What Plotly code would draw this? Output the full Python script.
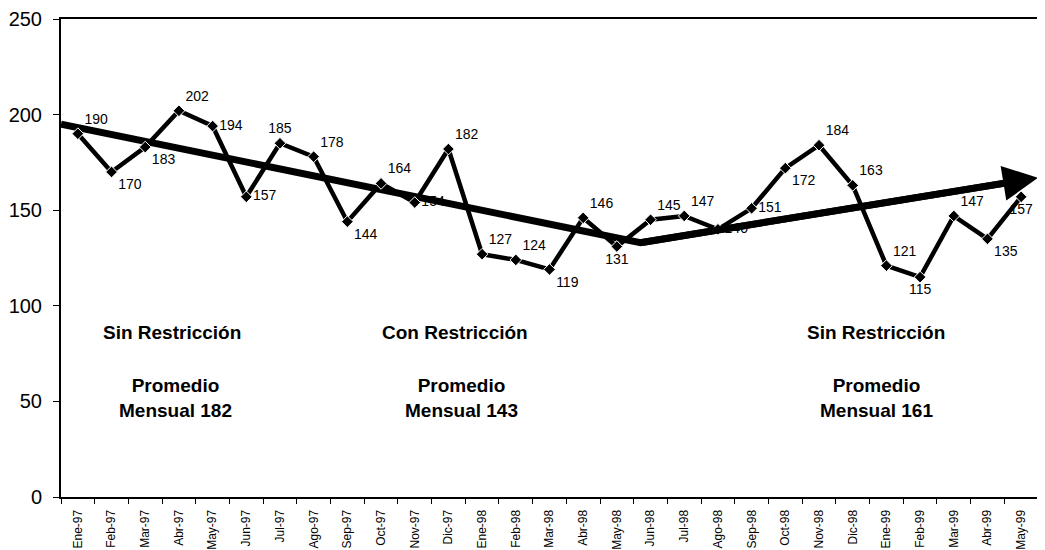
import plotly.graph_objects as go

months = ["Ene-97", "Feb-97", "Mar-97", "Abr-97", "May-97", "Jun-97", "Jul-97", "Ago-97",
          "Sep-97", "Oct-97", "Nov-97", "Dic-97", "Ene-98", "Feb-98", "Mar-98", "Abr-98",
          "May-98", "Jun-98", "Jul-98", "Ago-98", "Sep-98", "Oct-98", "Nov-98", "Dic-98",
          "Ene-99", "Feb-99", "Mar-99", "Abr-99", "May-99"]
values = [190, 170, 183, 202, 194, 157, 185, 178, 144, 164, 154, 182, 127, 124, 119, 146,
          131, 145, 147, 140, 151, 172, 184, 163, 121, 115, 147, 135, 157]
label_pos = ["top right", "bottom right", "bottom right", "top right", "middle right",
             "middle right", "top center", "top right", "bottom right", "top right",
             "middle right", "top right", "top right", "top right", "bottom right",
             "top right", "bottom center", "top right", "top right", "middle right",
             "middle right", "bottom right", "top right", "top right", "top right",
             "bottom center", "top right", "bottom right", "bottom center"]

# trend arrow (index position on the month axis, value)
trend_x = [-0.5, 16.7, 28.5]
trend_y = [195, 133, 167]

periods = ["Sin Restricción", "Con Restricción", "Sin Restricción"]
period_avg = [182, 143, 161]
period_center = [2.8, 11.2, 23.7]
avg_center = [2.9, 11.4, 23.7]

FONT = "Arial, Liberation Sans, sans-serif"
idx = list(range(len(months)))

fig = go.Figure()

# shaft of the trend arrow stops just short of the tip so the head stays sharp
slope = (trend_y[-1] - trend_y[-2]) / (trend_x[-1] - trend_x[-2])
shaft_x = trend_x[:-1] + [trend_x[-1] - 0.4]
shaft_y = trend_y[:-1] + [trend_y[-1] - 0.4 * slope]
fig.add_trace(go.Scatter(
    x=shaft_x, y=shaft_y, mode="lines",
    line=dict(color="black", width=7),
    hoverinfo="skip", showlegend=False, cliponaxis=False))

fig.add_annotation(
    x=trend_x[-1], y=trend_y[-1], ax=trend_x[-2], ay=trend_y[-2],
    xref="x", yref="y", axref="x", ayref="y",
    text="", showarrow=True, arrowhead=2, arrowwidth=7, arrowsize=1.0,
    arrowcolor="black")

fig.add_trace(go.Scatter(
    x=idx, y=values, mode="lines+markers+text",
    line=dict(color="black", width=4.5),
    marker=dict(symbol="diamond", size=9, color="black", line=dict(color="white", width=1)),
    text=[str(v) for v in values], textposition=label_pos,
    textfont=dict(family=FONT, size=14, color="black"),
    showlegend=False, cliponaxis=False))

for name, cx in zip(periods, period_center):
    fig.add_annotation(x=cx, y=86, text="<b>%s</b>" % name, showarrow=False,
                       font=dict(family=FONT, size=19, color="black"))
for avg, cx in zip(period_avg, avg_center):
    fig.add_annotation(x=cx, y=52, text="<b>Promedio<br>Mensual %d</b>" % avg,
                       showarrow=False, align="center",
                       font=dict(family=FONT, size=19, color="black"))

# the page body adds an 8px offset; size the figure to fill the rest of the window
fig.update_layout(
    width=1037, height=542,
    margin=dict(l=53, r=7, t=11, b=53),
    paper_bgcolor="white", plot_bgcolor="white",
    font=dict(family=FONT, color="black"),
    xaxis=dict(
        range=[-0.5, 28.5], tickmode="array", tickvals=idx, ticktext=months,
        tickangle=-90, tickfont=dict(family=FONT, size=12), ticks="",
        ticklabelstandoff=6, automargin=False,
        showgrid=False, zeroline=False,
        showline=True, linecolor="black", linewidth=2, mirror=True,
        minor=dict(tick0=-0.5, dtick=1, ticks="outside", ticklen=5, tickcolor="black",
                   showgrid=False),
    ),
    yaxis=dict(
        range=[0, 250], tickvals=[0, 50, 100, 150, 200, 250],
        tickfont=dict(family=FONT, size=20), ticks="outside", ticklen=6,
        ticklabelstandoff=7,
        tickcolor="black", showgrid=False, zeroline=False, automargin=False,
        showline=True, linecolor="black", linewidth=2, mirror=True,
    ),
)

fig.write_html("out.html")
